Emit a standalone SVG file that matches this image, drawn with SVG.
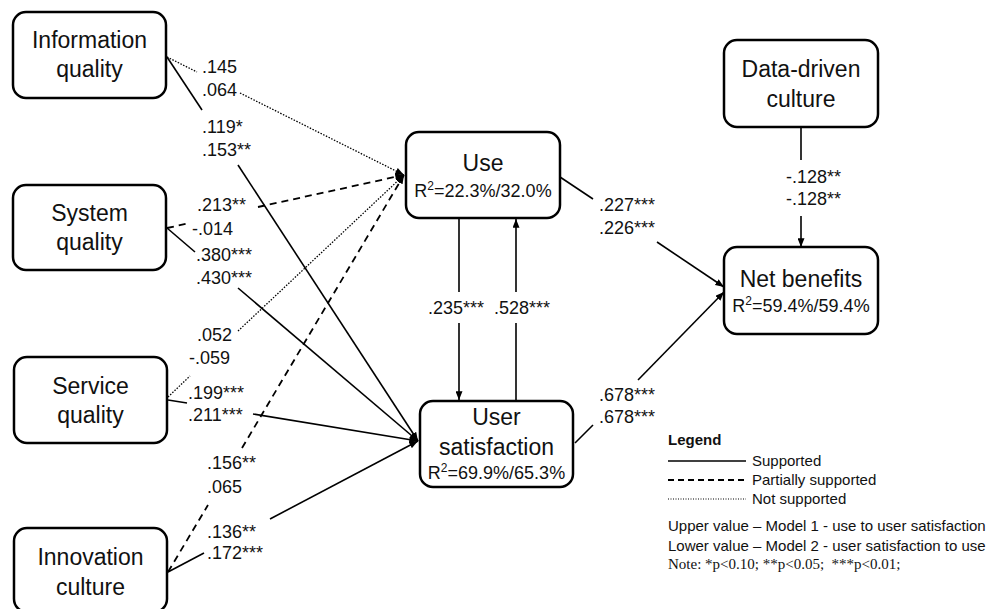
<svg xmlns="http://www.w3.org/2000/svg" width="992" height="609" viewBox="0 0 992 609">
<defs>
<marker id="arr" viewBox="0 0 10 8" refX="10" refY="4" markerWidth="9" markerHeight="7" markerUnits="userSpaceOnUse" orient="auto">
<path d="M0,0 L10,4 L0,8 z" fill="#000"/>
</marker>
<style>
.box{fill:#fff;stroke:#000;stroke-width:2.5}
.nt{font-family:"Liberation Sans",Arial,sans-serif;font-size:23px;fill:#111;text-anchor:middle}
.r2{font-family:"Liberation Sans",Arial,sans-serif;font-size:18px;fill:#111;text-anchor:middle}
.lb{font-family:"Liberation Sans",Arial,sans-serif;font-size:18px;fill:#111}
.s{stroke:#000;stroke-width:1.6;fill:none}
.d{stroke:#000;stroke-width:1.8;fill:none;stroke-dasharray:7 5}
.o{stroke:#000;stroke-width:1.3;fill:none;stroke-dasharray:1.5 1.5}
.lg{font-family:"Liberation Sans",Arial,sans-serif;font-size:15px;fill:#111}
.nb{font-family:"Liberation Serif","Times New Roman",serif;font-size:15px;fill:#111}
</style>
</defs>
<rect width="992" height="609" fill="#fff"/>

<g id="connectors">
<line class="o" x1="167" y1="57" x2="197" y2="72"/>
<line class="o" x1="240" y1="93" x2="404" y2="175" marker-end="url(#arr)"/>
<line class="s" x1="167" y1="57" x2="202" y2="110"/>
<line class="s" x1="238" y1="165" x2="418" y2="441" marker-end="url(#arr)"/>
<line class="d" x1="167" y1="228" x2="190" y2="223"/>
<line class="d" x1="258" y1="207" x2="404" y2="175" marker-end="url(#arr)"/>
<line class="s" x1="167" y1="228" x2="195" y2="252"/>
<line class="s" x1="238" y1="288" x2="418" y2="441" marker-end="url(#arr)"/>
<line class="o" x1="168" y1="397" x2="190" y2="376"/>
<line class="o" x1="238" y1="331" x2="404" y2="175" marker-end="url(#arr)"/>
<line class="s" x1="168" y1="400" x2="187" y2="403"/>
<line class="s" x1="253" y1="414" x2="418" y2="441" marker-end="url(#arr)"/>
<line class="d" x1="168" y1="572" x2="208" y2="505"/>
<line class="d" x1="242" y1="448" x2="404" y2="175" marker-end="url(#arr)"/>
<line class="s" x1="168" y1="572" x2="204" y2="553"/>
<line class="s" x1="270" y1="519" x2="418" y2="441" marker-end="url(#arr)"/>
<line class="s" x1="560" y1="177" x2="593" y2="199"/>
<line class="s" x1="657" y1="242" x2="724" y2="287" marker-end="url(#arr)"/>
<line class="s" x1="575" y1="443" x2="593" y2="425"/>
<line class="s" x1="638" y1="380" x2="724" y2="292" marker-end="url(#arr)"/>
<line class="s" x1="459" y1="218" x2="459" y2="292"/>
<line class="s" x1="459" y1="323" x2="459" y2="400" marker-end="url(#arr)"/>
<line class="s" x1="516" y1="401" x2="516" y2="323"/>
<line class="s" x1="516" y1="292" x2="516" y2="219" marker-end="url(#arr)"/>
<line class="s" x1="801" y1="127" x2="801" y2="160"/>
<line class="s" x1="801" y1="216" x2="801" y2="247" marker-end="url(#arr)"/>
</g>

<g id="labels">
<text class="lb" x="202" y="73">.145</text>
<text class="lb" x="202" y="96">.064</text>
<text class="lb" x="202" y="133">.119*</text>
<text class="lb" x="202" y="156">.153**</text>
<text class="lb" x="197" y="211">.213**</text>
<text class="lb" x="192" y="235">-.014</text>
<text class="lb" x="196" y="261">.380***</text>
<text class="lb" x="196" y="284">.430***</text>
<text class="lb" x="197" y="341">.052</text>
<text class="lb" x="189" y="364">-.059</text>
<text class="lb" x="188" y="399">.199***</text>
<text class="lb" x="188" y="421">.211***</text>
<text class="lb" x="207" y="469">.156**</text>
<text class="lb" x="207" y="493">.065</text>
<text class="lb" x="207" y="538">.136**</text>
<text class="lb" x="207" y="559">.172***</text>
<text class="lb" x="599" y="211">.227***</text>
<text class="lb" x="599" y="234">.226***</text>
<text class="lb" x="599" y="401">.678***</text>
<text class="lb" x="599" y="423">.678***</text>
<text class="lb" x="428" y="314">.235***</text>
<text class="lb" x="494" y="314">.528***</text>
<text class="lb" x="786" y="183">-.128**</text>
<text class="lb" x="786" y="205">-.128**</text>
</g>

<g id="info-quality">
<rect class="box" x="13" y="12" width="153" height="86" rx="13"/>
<text class="nt" x="89.5" y="48">Information</text>
<text class="nt" x="89.5" y="77">quality</text>
</g>
<g id="system-quality">
<rect class="box" x="13" y="185" width="153" height="85" rx="13"/>
<text class="nt" x="89.5" y="221">System</text>
<text class="nt" x="89.5" y="250">quality</text>
</g>
<g id="service-quality">
<rect class="box" x="14" y="357" width="153" height="86" rx="13"/>
<text class="nt" x="90.5" y="394">Service</text>
<text class="nt" x="90.5" y="423">quality</text>
</g>
<g id="innovation-culture">
<rect class="box" x="14" y="528" width="153" height="84" rx="13"/>
<text class="nt" x="90.5" y="565">Innovation</text>
<text class="nt" x="90.5" y="595">culture</text>
</g>
<g id="use">
<rect class="box" x="406" y="132" width="154" height="86" rx="13"/>
<text class="nt" x="483" y="171">Use</text>
<text class="r2" x="483" y="197">R<tspan font-size="12" dy="-7">2</tspan><tspan dy="7">=22.3%/32.0%</tspan></text>
</g>
<g id="user-satisfaction">
<rect class="box" x="420" y="401" width="153" height="86" rx="13"/>
<text class="nt" x="496.5" y="425">User</text>
<text class="nt" x="496.5" y="455">satisfaction</text>
<text class="r2" x="496.5" y="479">R<tspan font-size="12" dy="-7">2</tspan><tspan dy="7">=69.9%/65.3%</tspan></text>
</g>
<g id="data-driven-culture">
<rect class="box" x="724" y="40" width="154" height="87" rx="13"/>
<text class="nt" x="801" y="77">Data-driven</text>
<text class="nt" x="801" y="107">culture</text>
</g>
<g id="net-benefits">
<rect class="box" x="724" y="247" width="154" height="87" rx="13"/>
<text class="nt" x="801" y="287">Net benefits</text>
<text class="r2" x="801" y="312">R<tspan font-size="12" dy="-7">2</tspan><tspan dy="7">=59.4%/59.4%</tspan></text>
</g>

<g id="legend">
<text class="lg" x="668" y="445" font-weight="bold" font-size="14">Legend</text>
<line x1="668" y1="461" x2="746" y2="461" stroke="#000" stroke-width="1.6"/>
<line x1="668" y1="480" x2="746" y2="480" stroke="#000" stroke-width="2" stroke-dasharray="6 4"/>
<line x1="668" y1="499" x2="746" y2="499" stroke="#000" stroke-width="1" stroke-dasharray="1 1.5"/>
<text class="lg" x="752" y="466">Supported</text>
<text class="lg" x="752" y="485">Partially supported</text>
<text class="lg" x="752" y="504">Not supported</text>
<text class="lg" x="668" y="531">Upper value – Model 1 - use to user satisfaction</text>
<text class="lg" x="668" y="551">Lower value – Model 2 - user satisfaction to use</text>
<text class="nb" x="668" y="569">Note: *p&lt;0.10; **p&lt;0.05;&#160; ***p&lt;0.01;</text>
</g>
</svg>
